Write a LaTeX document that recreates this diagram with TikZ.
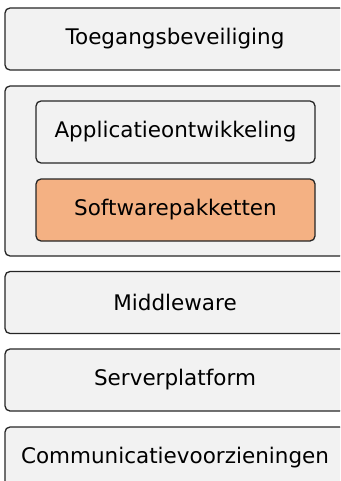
\documentclass[tikz,border=0pt]{standalone}
\usepackage{fontspec}
\setmainfont{DejaVu Sans}
\usepackage{tikz}

\definecolor{laaggrijs}{HTML}{F2F2F2}
\definecolor{pakketoranje}{HTML}{F4B183}
\definecolor{randgrijs}{HTML}{262626}

\tikzset{
  laag/.style={draw=randgrijs, line width=1.3pt, fill=laaggrijs, rounded corners=5pt,
    minimum width=340pt, minimum height=62pt, inner sep=0pt},
  binnen/.style={laag, minimum width=279pt},
  pakket/.style={binnen, fill=pakketoranje}
}

\begin{document}
\begin{tikzpicture}[x=1pt,y=-1pt]
\useasboundingbox (0,0) rectangle (340,481);
\clip (0,0) rectangle (340,481);
\fontsize{21.5}{26}\selectfont

\node[laag] (toegang) at (175,39) {Toegangsbeveiliging};
\node[laag, minimum height=170pt] (applicatielaag) at (175,171) {};
\node[binnen] (ontwikkeling) at (175.5,132) {Applicatieontwikkeling};
\node[pakket] (software) at (175.5,210) {Softwarepakketten};
\node[laag] (middleware) at (175,302.5) {Middleware};
\node[laag] (server) at (175,380) {Serverplatform};
\node[laag] (communicatie) at (175,458) {Communicatievoorzieningen};

\end{tikzpicture}
\end{document}
